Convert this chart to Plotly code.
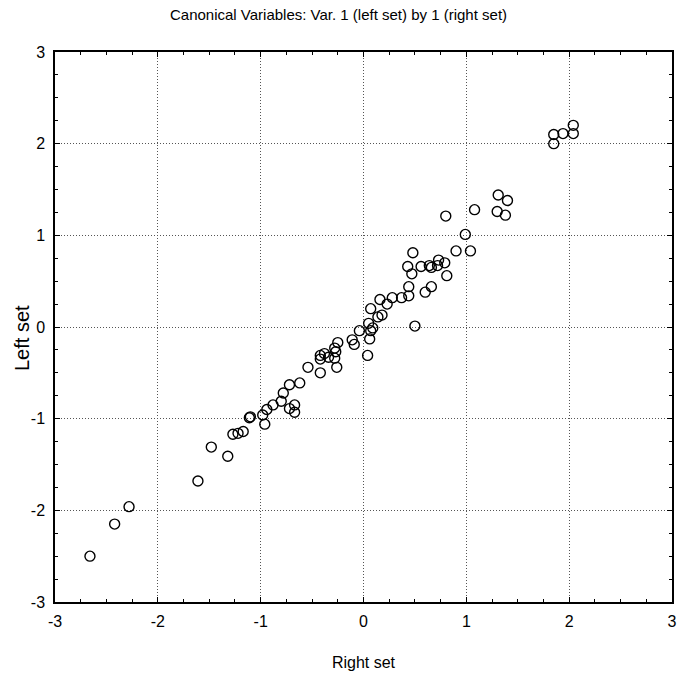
import plotly.graph_objects as go

# Canonical scores: right-set variate (x) vs. left-set variate (y)
right_set = [
    -2.66, -2.42, -2.28, -1.61, -1.48, -1.32, -1.27, -1.22, -1.17, -1.11,
    -1.10, -0.98, -0.96, -0.94, -0.88, -0.80, -0.78, -0.72, -0.67, -0.67,
    -0.72, -0.62, -0.54, -0.42, -0.42, -0.42, -0.38, -0.34, -0.28, -0.27,
    -0.28, -0.26, -0.25, -0.11, -0.09, -0.04, 0.04, 0.05, 0.06, 0.07,
    0.09, 0.07, 0.14, 0.18, 0.16, 0.23, 0.28, 0.37, 0.44, 0.44,
    0.50, 0.43, 0.47, 0.48, 0.56, 0.60, 0.66, 0.64, 0.66, 0.72,
    0.73, 0.79, 0.81, 0.80, 0.99, 0.90, 1.04, 1.08, 1.31, 1.40,
    1.30, 1.38, 1.85, 1.85, 1.94, 2.04, 2.04,
]
left_set = [
    -2.50, -2.15, -1.96, -1.68, -1.31, -1.41, -1.17, -1.16, -1.14, -0.99,
    -0.98, -0.96, -1.06, -0.90, -0.85, -0.81, -0.72, -0.89, -0.93, -0.85,
    -0.63, -0.61, -0.44, -0.31, -0.35, -0.50, -0.29, -0.33, -0.23, -0.27,
    -0.34, -0.44, -0.17, -0.14, -0.19, -0.04, -0.31, 0.04, -0.13, -0.04,
    -0.01, 0.20, 0.11, 0.13, 0.30, 0.25, 0.32, 0.32, 0.34, 0.44,
    0.01, 0.66, 0.58, 0.81, 0.66, 0.38, 0.44, 0.67, 0.65, 0.67,
    0.73, 0.70, 0.56, 1.21, 1.01, 0.83, 0.83, 1.28, 1.44, 1.38,
    1.26, 1.22, 2.10, 2.00, 2.11, 2.20, 2.11,
]

tick_vals = [-3, -2, -1, 0, 1, 2, 3]
tick_text = [str(v) for v in tick_vals]

FONT = "Liberation Sans Narrow, Arial Narrow, Liberation Sans, Arial, sans-serif"

fig = go.Figure(
    go.Scatter(
        x=right_set,
        y=left_set,
        mode="markers",
        marker=dict(
            symbol="circle-open",
            size=10,
            color="black",
            line=dict(width=1.4, color="black"),
        ),
        hoverinfo="x+y",
    )
)

axis_common = dict(
    range=[-3, 3],
    tickvals=tick_vals,
    ticktext=tick_text,
    automargin=False,
    showgrid=True,
    gridcolor="#555",
    griddash="1px,2px",
    gridwidth=1,
    zeroline=False,
    showline=True,
    linecolor="black",
    linewidth=1.5,
    mirror="ticks",
    ticks="inside",
    ticklen=5,
    tickcolor="black",
    tickfont=dict(family=FONT, size=16, color="black"),
    minor=dict(dtick=0.25, ticks="inside", ticklen=3, tickcolor="black", showgrid=False),
)

fig.update_layout(
    width=677,
    height=673,
    paper_bgcolor="white",
    plot_bgcolor="white",
    showlegend=False,
    margin=dict(l=55, r=5, t=52, b=71),
    title=dict(
        text="Canonical Variables: Var. 1 (left set) by 1 (right set)",
        x=0.5,
        xanchor="center",
        y=0.978,
        yanchor="middle",
        font=dict(family=FONT, size=15, color="black"),
    ),
    xaxis=dict(
        **axis_common,
        ticklabelstandoff=4,
        title=dict(text="Right set", font=dict(family=FONT, size=16, color="black"), standoff=28),
    ),
    yaxis=dict(**axis_common, ticklabelstandoff=5),
    annotations=[
        dict(
            text="Left set",
            xref="paper",
            yref="paper",
            x=0,
            y=0.48,
            xshift=-33,
            xanchor="center",
            yanchor="middle",
            textangle=-90,
            showarrow=False,
            font=dict(family=FONT, size=20, color="black"),
        )
    ],
)

fig.write_html("out.html")
